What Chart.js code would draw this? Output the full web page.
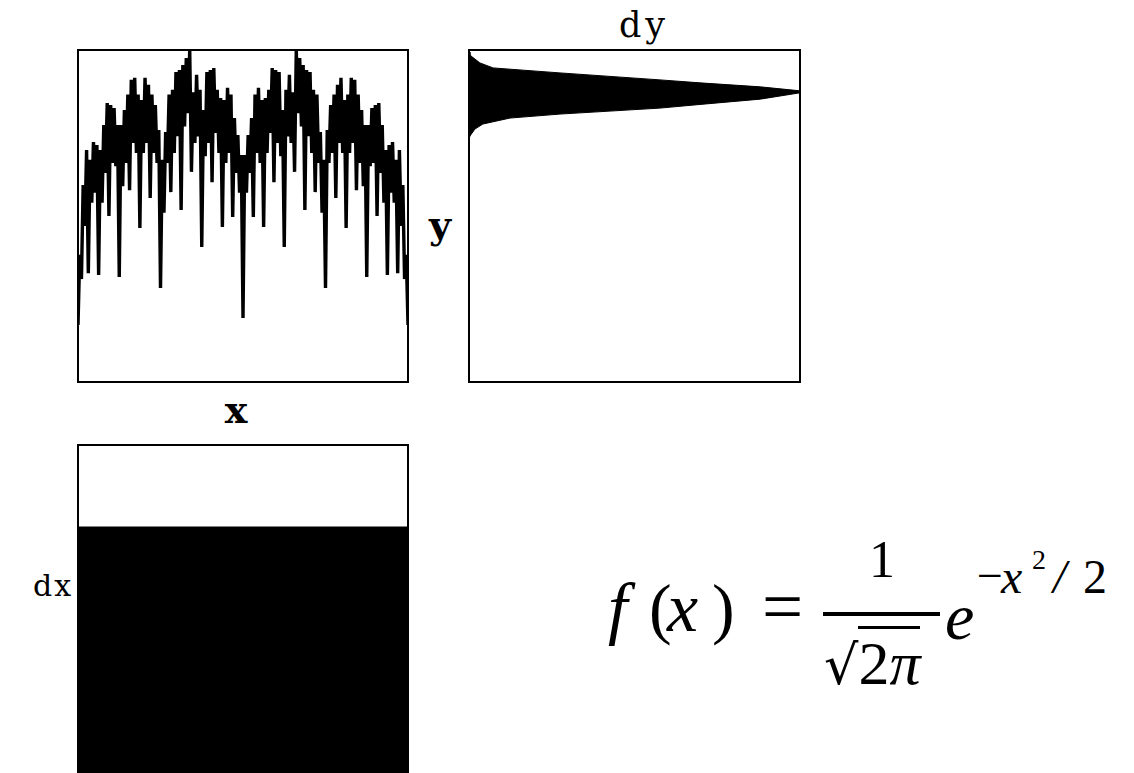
<!DOCTYPE html>
<html><head><meta charset="utf-8">
<script src="https://cdn.jsdelivr.net/npm/chart.js@4"></script>
<style>
html,body{margin:0;padding:0;background:#fff;width:1134px;height:773px;overflow:hidden;position:relative}
canvas{position:absolute}
.t{position:absolute;line-height:1;white-space:nowrap;color:#000;font-family:"DejaVu Serif",serif}
.m{position:absolute;line-height:1;white-space:nowrap;color:#000;font-family:"Liberation Serif",serif}
</style></head>
<body>
<canvas id="c1" width="334" height="336" style="left:76px;top:48px"></canvas>
<canvas id="c2" width="335" height="336" style="left:467px;top:48px"></canvas>
<canvas id="c3" width="334" height="336" style="left:76px;top:443px"></canvas>

<div class="t" style="left:644px;top:8px;font-size:35px;letter-spacing:4px;transform:translateX(-50%)">dy</div>
<div class="t" style="left:440px;top:206px;font-size:38px;font-weight:bold;transform:translateX(-50%)">y</div>
<div class="t" style="left:236px;top:391px;font-size:38px;font-weight:bold;transform:translateX(-50%)">x</div>
<div class="t" style="left:53px;top:571px;font-size:30px;letter-spacing:2px;transform:translateX(-50%)">dx</div>

<div class="m" style="left:608px;top:573px;font-size:70px"><i>f</i></div>
<div class="m" style="left:649px;top:574px;font-size:68px">(</div>
<div class="m" style="left:667px;top:573px;font-size:70px"><i>x</i></div>
<div class="m" style="left:712px;top:574px;font-size:68px">)</div>
<div class="m" style="left:762px;top:570px;font-size:73px">=</div>
<div class="m" style="left:882px;top:534px;font-size:52px;transform:translateX(-50%)">1</div>
<div style="position:absolute;left:823px;top:612px;width:117px;height:4px;background:#000"></div>
<div class="t" style="left:824px;top:632px;font-size:54px">√<span style="border-top:3px solid #000;font-family:'Liberation Serif',serif;font-size:62px">2<i>π</i></span></div>
<div class="m" style="left:945px;top:584px;font-size:66px"><i>e</i></div>
<div class="m" style="left:977px;top:553px;font-size:46px">−</div>
<div class="m" style="left:1001px;top:553px;font-size:48px"><i>x</i></div>
<div class="m" style="left:1032px;top:546px;font-size:28px">2</div>
<div class="m" style="left:1053px;top:553px;font-size:48px"><i>/</i></div>
<div class="m" style="left:1083px;top:553px;font-size:48px">2</div>

<script>
// ---- top-left: y as a function of x (values 0..100, 6 samples per spike cell) ----
const curveY = [
  17.2, 38.3, 31.0, 59.3, 47.0, 69.9,
  32.8, 66.9, 54.0, 72.3, 57.0, 71.4,
  32.2, 69.9, 54.0, 77.4, 63.0, 84.0,
  50.0, 83.4, 66.0, 82.5, 65.0, 77.4,
  31.6, 77.4, 59.0, 81.9, 66.0, 86.6,
  57.8, 91.0, 72.0, 91.6, 69.0, 86.6,
  46.4, 84.9, 69.0, 91.6, 72.0, 89.5,
  55.4, 86.6, 69.0, 83.4, 66.0, 75.9,
  28.3, 66.9, 51.0, 75.3, 66.0, 86.6,
  57.2, 88.0, 69.0, 93.4, 74.0, 94.0,
  51.8, 95.5, 77.0, 97.6, 81.0, 100,
  63.3, 87.3, 72.0, 92.5, 74.0, 88.0,
  40.7, 81.9, 68.0, 93.4, 72.0, 94.0,
  60.2, 94.6, 75.0, 88.0, 69.0, 85.5,
  46.7, 84.9, 66.0, 88.6, 69.0, 86.6,
  49.7, 79.5, 63.0, 74.4, 57.0, 68.4,
  19.3, 68.4, 57.0, 74.4, 63.0, 79.5,
  49.7, 86.6, 69.0, 88.6, 66.0, 84.9,
  46.7, 85.5, 69.0, 88.0, 75.0, 94.6,
  60.2, 94.0, 72.0, 93.4, 68.0, 81.9,
  40.7, 88.0, 74.0, 92.5, 72.0, 87.3,
  63.3, 100, 81.0, 97.6, 77.0, 95.5,
  51.8, 94.0, 74.0, 93.4, 69.0, 88.0,
  57.2, 86.6, 66.0, 75.3, 51.0, 66.9,
  28.3, 75.9, 66.0, 83.4, 69.0, 86.6,
  55.4, 89.5, 72.0, 91.6, 69.0, 84.9,
  46.4, 86.6, 69.0, 91.6, 72.0, 91.0,
  57.8, 86.6, 66.0, 81.9, 59.0, 77.4,
  31.6, 77.4, 65.0, 82.5, 66.0, 83.4,
  50.0, 84.0, 63.0, 77.4, 54.0, 69.9,
  32.2, 71.4, 57.0, 72.3, 54.0, 66.9,
  32.8, 69.9, 47.0, 59.3, 31.0, 38.3,
  17.2
];
const curveX = curveY.map((_, i) => i);   // sample index along x

// ---- top-right: density of y (dy), upper and lower outline ----
const dyUpperDensity = [0, 0.003, 0.01, 0.033, 0.073, 0.275, 0.577, 0.698, 0.88, 1.0];
const dyUpperY       = [99.4, 98.5, 97.9, 96.1, 94.6, 93.1, 91.0, 90.1, 88.9, 87.7];
const dyLowerDensity = [0, 0.005, 0.018, 0.042, 0.124, 0.275, 0.577, 0.698, 0.88, 1.0];
const dyLowerY       = [73.5, 74.4, 76.2, 77.7, 79.5, 80.7, 82.5, 83.6, 85.2, 87.1];

// ---- bottom-left: density of x (dx), uniform ----
const dxX = [0, 1];
const dxDensity = [0.753, 0.753];

const framePlugin = {
  id: 'frame',
  afterDraw(chart) {
    const a = chart.chartArea, ctx = chart.ctx;
    ctx.save();
    ctx.strokeStyle = '#000';
    ctx.lineWidth = 2;
    ctx.strokeRect(a.left, a.top, a.right - a.left, a.bottom - a.top);
    ctx.restore();
  }
};

function baseOpts(xmin, xmax, ymin, ymax) {
  return {
    responsive: false,
    animation: false,
    events: [],
    layout: { padding: 2 },
    plugins: { legend: { display: false }, tooltip: { enabled: false } },
    elements: { point: { radius: 0 }, line: { tension: 0 } },
    scales: {
      x: { type: 'linear', display: false, min: xmin, max: xmax },
      y: { type: 'linear', display: false, min: ymin, max: ymax }
    }
  };
}

new Chart(document.getElementById('c1'), {
  type: 'line',
  data: { datasets: [{
    data: curveX.map((x, i) => ({ x: x, y: curveY[i] })),
    borderColor: '#000', borderWidth: 3.4, fill: false
  }]},
  options: baseOpts(0, curveY.length - 1, 0, 100),
  plugins: [framePlugin]
});

new Chart(document.getElementById('c2'), {
  type: 'line',
  data: { datasets: [
    { data: dyUpperDensity.map((d, i) => ({ x: d, y: dyUpperY[i] })),
      borderColor: '#000', backgroundColor: '#000', borderWidth: 1, fill: '+1' },
    { data: dyLowerDensity.map((d, i) => ({ x: d, y: dyLowerY[i] })),
      borderColor: '#000', backgroundColor: '#000', borderWidth: 1, fill: false }
  ]},
  options: baseOpts(0, 1, 0, 100),
  plugins: [framePlugin]
});

new Chart(document.getElementById('c3'), {
  type: 'line',
  data: { datasets: [{
    data: dxX.map((x, i) => ({ x: x, y: dxDensity[i] })),
    borderColor: '#000', backgroundColor: '#000', borderWidth: 1, fill: 'origin'
  }]},
  options: baseOpts(0, 1, 0, 1),
  plugins: [framePlugin]
});
</script>
</body></html>
